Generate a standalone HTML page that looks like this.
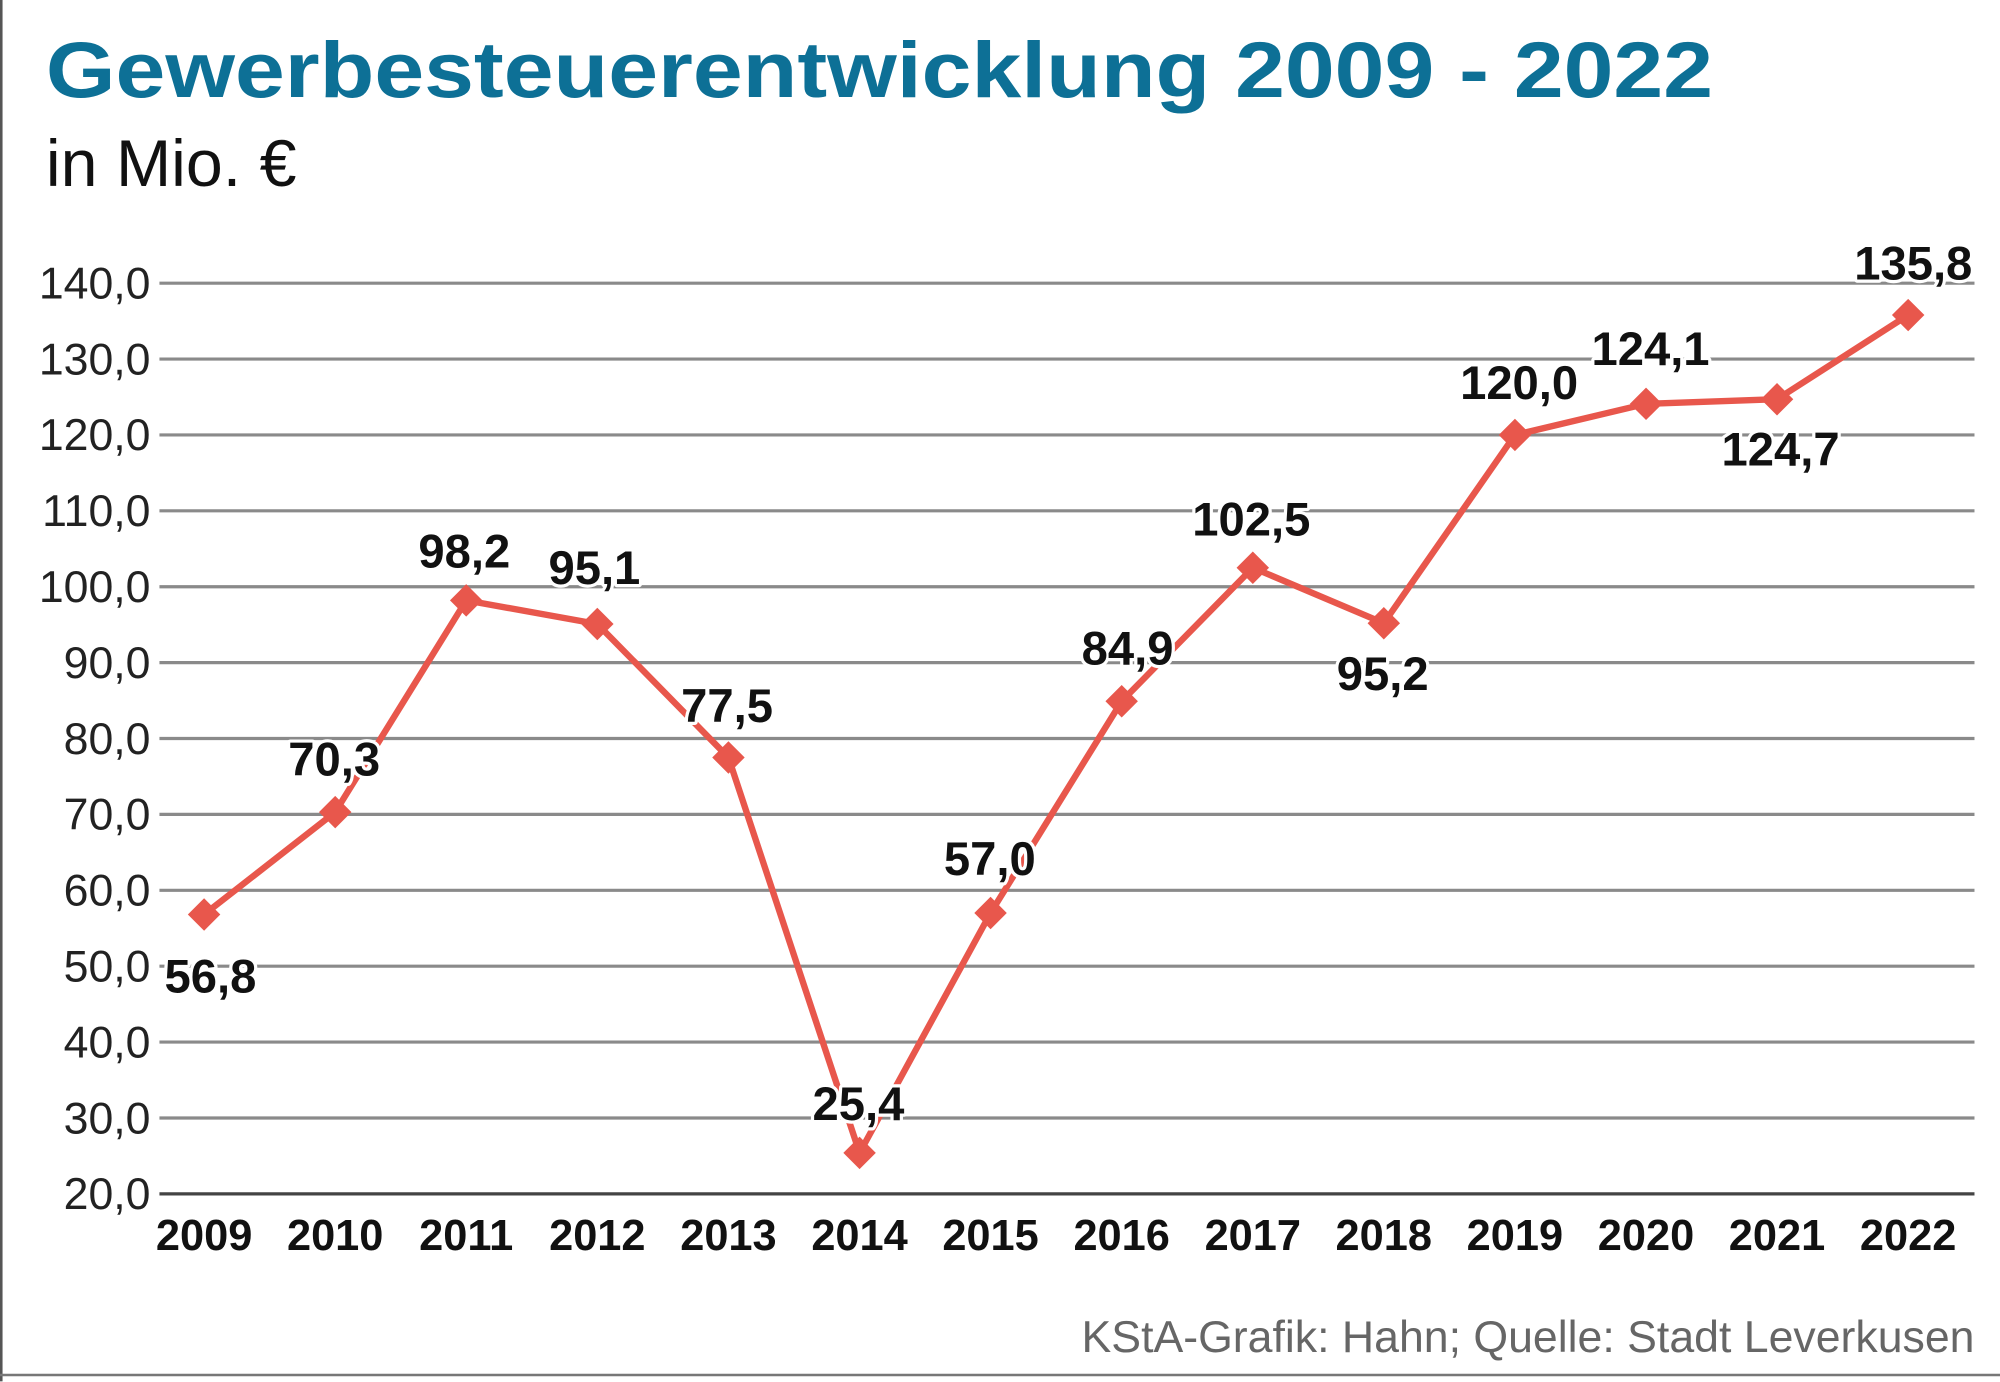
<!DOCTYPE html>
<html><head><meta charset="utf-8"><style>
html,body{margin:0;padding:0;background:#fff;}
svg{display:block;}
text{font-family:"Liberation Sans",sans-serif;}
</style></head><body>
<svg width="2000" height="1382" viewBox="0 0 1568 1083.5" preserveAspectRatio="none" xmlns="http://www.w3.org/2000/svg">
<rect x="0" y="0" width="1568" height="1083.5" fill="#fff"/>
<line x1="1" y1="0" x2="1" y2="1083" stroke="#555" stroke-width="2"/>
<line x1="0" y1="1078" x2="1568" y2="1078" stroke="#777" stroke-width="2"/>
<text x="36" y="76" font-size="62" font-weight="bold" fill="#0d7096" textLength="1307" lengthAdjust="spacingAndGlyphs">Gewerbesteuerentwicklung 2009 - 2022</text>
<text x="36" y="146" font-size="52" fill="#111">in Mio. €</text>
<g stroke="#8a8a8a" stroke-width="2.5">
<line x1="125" x2="1548" y1="222" y2="222"/>
<line x1="125" x2="1548" y1="281.5" y2="281.5"/>
<line x1="125" x2="1548" y1="341" y2="341"/>
<line x1="125" x2="1548" y1="400.5" y2="400.5"/>
<line x1="125" x2="1548" y1="460" y2="460"/>
<line x1="125" x2="1548" y1="519.5" y2="519.5"/>
<line x1="125" x2="1548" y1="579" y2="579"/>
<line x1="125" x2="1548" y1="638.5" y2="638.5"/>
<line x1="125" x2="1548" y1="698" y2="698"/>
<line x1="125" x2="1548" y1="757.5" y2="757.5"/>
<line x1="125" x2="1548" y1="817" y2="817"/>
<line x1="125" x2="1548" y1="876.5" y2="876.5"/>
<line x1="125" x2="1548" y1="936" y2="936" stroke="#444"/>
</g>
<g font-size="35" fill="#222" text-anchor="end">
<text x="118" y="234">140,0</text>
<text x="118" y="293.5">130,0</text>
<text x="118" y="353">120,0</text>
<text x="118" y="412.5">110,0</text>
<text x="118" y="472">100,0</text>
<text x="118" y="531.5">90,0</text>
<text x="118" y="591">80,0</text>
<text x="118" y="650.5">70,0</text>
<text x="118" y="710">60,0</text>
<text x="118" y="769.5">50,0</text>
<text x="118" y="829">40,0</text>
<text x="118" y="888.5">30,0</text>
<text x="118" y="948">20,0</text>
</g>
<g font-size="34" font-weight="bold" fill="#111" text-anchor="middle">
<text x="160" y="980">2009</text><text x="262.8" y="980">2010</text><text x="365.5" y="980">2011</text><text x="468.3" y="980">2012</text><text x="571.1" y="980">2013</text><text x="673.9" y="980">2014</text><text x="776.6" y="980">2015</text><text x="879.4" y="980">2016</text><text x="982.2" y="980">2017</text><text x="1084.9" y="980">2018</text><text x="1187.7" y="980">2019</text><text x="1290.5" y="980">2020</text><text x="1393.2" y="980">2021</text><text x="1496" y="980">2022</text>
</g>
<polyline fill="none" stroke="#e8574c" stroke-width="5" stroke-linejoin="round" points="160,717 262.8,636.7 365.5,470.7 468.3,489.2 571.1,593.9 673.9,903.9 776.6,715.8 879.4,549.8 982.2,445.1 1084.9,488.6 1187.7,341 1290.5,316.6 1393.2,313 1496,247"/>
<g fill="#e8574c">
<rect x="-9" y="-9" width="18" height="18" transform="translate(160,717) rotate(45)"/>
<rect x="-9" y="-9" width="18" height="18" transform="translate(262.8,636.7) rotate(45)"/>
<rect x="-9" y="-9" width="18" height="18" transform="translate(365.5,470.7) rotate(45)"/>
<rect x="-9" y="-9" width="18" height="18" transform="translate(468.3,489.2) rotate(45)"/>
<rect x="-9" y="-9" width="18" height="18" transform="translate(571.1,593.9) rotate(45)"/>
<rect x="-9" y="-9" width="18" height="18" transform="translate(673.9,903.9) rotate(45)"/>
<rect x="-9" y="-9" width="18" height="18" transform="translate(776.6,715.8) rotate(45)"/>
<rect x="-9" y="-9" width="18" height="18" transform="translate(879.4,549.8) rotate(45)"/>
<rect x="-9" y="-9" width="18" height="18" transform="translate(982.2,445.1) rotate(45)"/>
<rect x="-9" y="-9" width="18" height="18" transform="translate(1084.9,488.6) rotate(45)"/>
<rect x="-9" y="-9" width="18" height="18" transform="translate(1187.7,341) rotate(45)"/>
<rect x="-9" y="-9" width="18" height="18" transform="translate(1290.5,316.6) rotate(45)"/>
<rect x="-9" y="-9" width="18" height="18" transform="translate(1393.2,313) rotate(45)"/>
<rect x="-9" y="-9" width="18" height="18" transform="translate(1496,247) rotate(45)"/>
</g>
<g font-size="37" font-weight="bold" fill="#111" text-anchor="middle" stroke="#fff" stroke-width="5" paint-order="stroke" stroke-linejoin="round">
<text x="165" y="778">56,8</text>
<text x="262" y="608">70,3</text>
<text x="364" y="445">98,2</text>
<text x="466" y="458">95,1</text>
<text x="570" y="566">77,5</text>
<text x="673" y="878">25,4</text>
<text x="776" y="686">57,0</text>
<text x="884" y="521">84,9</text>
<text x="981" y="420">102,5</text>
<text x="1084" y="541">95,2</text>
<text x="1191" y="313">120,0</text>
<text x="1294" y="286">124,1</text>
<text x="1396" y="365">124,7</text>
<text x="1500" y="219">135,8</text>
</g>
<text x="1548" y="1060" font-size="35" fill="#666" text-anchor="end">KStA-Grafik: Hahn; Quelle: Stadt Leverkusen</text>
</svg>
</body></html>
